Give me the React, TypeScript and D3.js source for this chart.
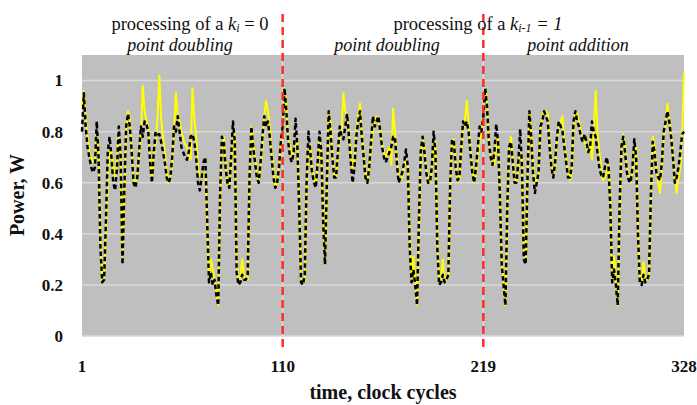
import React from "react";
import * as d3 from "d3";

// Power trace, segment 1 (cycles 1-111): processing of k_i = 0, point doubling
const yellowSeg1 = [
  0.90, 0.96, 0.85, 0.78, 0.72, 0.70, 0.68, 0.69, 0.80, 0.72,
  0.40, 0.22, 0.23, 0.40, 0.60, 0.73, 0.72, 0.66, 0.62, 0.70,
  0.78, 0.72, 0.31, 0.55, 0.80, 0.88, 0.85, 0.73, 0.62, 0.59,
  0.63, 0.70, 0.78, 0.98, 0.88, 0.84, 0.82, 0.70, 0.62, 0.70,
  0.76, 0.85, 1.02, 0.85, 0.78, 0.72, 0.64, 0.60, 0.63, 0.67,
  0.80, 0.95, 0.86, 0.84, 0.80, 0.77, 0.75, 0.74, 0.71, 0.69,
  0.97, 0.85, 0.78, 0.66, 0.63, 0.62, 0.63, 0.64, 0.45, 0.22,
  0.30, 0.26, 0.22, 0.18, 0.12, 0.50, 0.75, 0.78, 0.68, 0.62,
  0.58, 0.68, 0.76, 0.79, 0.30, 0.21, 0.22, 0.30, 0.24, 0.22,
  0.22, 0.60, 0.82, 0.76, 0.70, 0.64, 0.60, 0.66, 0.73, 0.86,
  0.92, 0.88, 0.82, 0.72, 0.65, 0.58, 0.60, 0.67, 0.74, 0.80,
  0.97,
];
// Segment 2 (cycles 112-220): processing of k_{i-1} = 1, point doubling
const yellowSeg2 = [
  0.90, 0.78, 0.74, 0.70, 0.72, 0.74, 0.77, 0.55, 0.22, 0.21,
  0.22, 0.56, 0.72, 0.75, 0.66, 0.62, 0.60, 0.66, 0.76, 0.70,
  0.50, 0.28, 0.55, 0.88, 0.84, 0.72, 0.63, 0.62, 0.70, 0.78,
  0.80, 0.95, 0.88, 0.86, 0.80, 0.72, 0.65, 0.70, 0.80, 0.86,
  0.91, 0.80, 0.72, 0.64, 0.60, 0.66, 0.73, 0.80, 0.84, 0.86,
  0.84, 0.80, 0.76, 0.72, 0.70, 0.72, 0.74, 0.67, 0.89, 0.80,
  0.70, 0.63, 0.61, 0.62, 0.66, 0.69, 0.67, 0.40, 0.22, 0.31,
  0.23, 0.12, 0.40, 0.70, 0.77, 0.74, 0.66, 0.62, 0.60, 0.64,
  0.74, 0.76, 0.40, 0.21, 0.22, 0.30, 0.23, 0.22, 0.23, 0.58,
  0.76, 0.77, 0.68, 0.62, 0.61, 0.72, 0.80, 0.84, 0.92, 0.83,
  0.74, 0.66, 0.60, 0.64, 0.70, 0.76, 0.80, 0.88, 0.97,
];
// Segment 3 (cycles 221-328): point addition
const yellowSeg3 = [
  0.92, 0.76, 0.70, 0.68, 0.67, 0.75, 0.78, 0.60, 0.30, 0.22,
  0.12, 0.45, 0.72, 0.78, 0.70, 0.62, 0.60, 0.66, 0.72, 0.70,
  0.35, 0.30, 0.60, 0.88, 0.80, 0.68, 0.60, 0.61, 0.63, 0.80,
  0.86, 0.88, 0.88, 0.87, 0.76, 0.68, 0.63, 0.66, 0.76, 0.82,
  0.84, 0.86, 0.76, 0.70, 0.64, 0.61, 0.64, 0.80, 0.88, 0.87,
  0.84, 0.80, 0.78, 0.76, 0.74, 0.72, 0.78, 0.69, 0.80, 0.96,
  0.80, 0.72, 0.66, 0.61, 0.62, 0.64, 0.67, 0.55, 0.22, 0.31,
  0.23, 0.12, 0.45, 0.72, 0.79, 0.74, 0.66, 0.62, 0.60, 0.64,
  0.72, 0.74, 0.45, 0.22, 0.21, 0.29, 0.22, 0.22, 0.23, 0.52,
  0.78, 0.74, 0.66, 0.60, 0.56, 0.66, 0.78, 0.82, 0.91, 0.85,
  0.80, 0.72, 0.62, 0.56, 0.62, 0.66, 0.78, 1.03,
];

const blackSeg1 = [
  0.80, 0.95, 0.82, 0.74, 0.70, 0.66, 0.64, 0.66, 0.84, 0.70,
  0.35, 0.21, 0.22, 0.45, 0.72, 0.78, 0.70, 0.60, 0.57, 0.66,
  0.82, 0.70, 0.28, 0.58, 0.82, 0.87, 0.82, 0.72, 0.60, 0.58,
  0.62, 0.72, 0.82, 0.78, 0.84, 0.83, 0.80, 0.68, 0.60, 0.72,
  0.80, 0.79, 0.79, 0.76, 0.72, 0.68, 0.62, 0.60, 0.62, 0.70,
  0.82, 0.80, 0.86, 0.80, 0.74, 0.72, 0.70, 0.69, 0.72, 0.78,
  0.79, 0.76, 0.70, 0.60, 0.57, 0.62, 0.68, 0.70, 0.45, 0.21,
  0.25, 0.20, 0.22, 0.16, 0.12, 0.55, 0.78, 0.76, 0.66, 0.60,
  0.58, 0.70, 0.84, 0.76, 0.25, 0.20, 0.21, 0.24, 0.22, 0.22,
  0.24, 0.62, 0.82, 0.74, 0.68, 0.62, 0.60, 0.68, 0.78, 0.86,
  0.82, 0.84, 0.78, 0.70, 0.62, 0.58, 0.60, 0.66, 0.76, 0.82,
  0.97,
];
const blackSeg2 = [
  0.88, 0.76, 0.70, 0.68, 0.72, 0.85, 0.74, 0.50, 0.21, 0.20,
  0.24, 0.60, 0.80, 0.72, 0.64, 0.60, 0.58, 0.68, 0.80, 0.72,
  0.45, 0.28, 0.60, 0.88, 0.80, 0.70, 0.62, 0.62, 0.72, 0.82,
  0.78, 0.77, 0.82, 0.87, 0.78, 0.68, 0.60, 0.66, 0.78, 0.84,
  0.88, 0.78, 0.70, 0.62, 0.60, 0.66, 0.76, 0.86, 0.82, 0.84,
  0.86, 0.80, 0.74, 0.70, 0.68, 0.70, 0.72, 0.74, 0.78, 0.78,
  0.68, 0.60, 0.62, 0.64, 0.68, 0.73, 0.66, 0.35, 0.21, 0.26,
  0.20, 0.12, 0.45, 0.72, 0.78, 0.72, 0.64, 0.60, 0.60, 0.66,
  0.80, 0.72, 0.35, 0.20, 0.21, 0.24, 0.21, 0.22, 0.24, 0.60,
  0.77, 0.76, 0.66, 0.61, 0.62, 0.74, 0.84, 0.82, 0.84, 0.80,
  0.72, 0.64, 0.60, 0.66, 0.74, 0.82, 0.80, 0.86, 0.97,
];
const blackSeg3 = [
  0.90, 0.76, 0.70, 0.67, 0.72, 0.83, 0.76, 0.55, 0.28, 0.20,
  0.12, 0.50, 0.74, 0.76, 0.68, 0.60, 0.60, 0.68, 0.81, 0.66,
  0.30, 0.28, 0.62, 0.88, 0.78, 0.64, 0.56, 0.60, 0.64, 0.82,
  0.84, 0.88, 0.86, 0.84, 0.74, 0.66, 0.62, 0.68, 0.78, 0.84,
  0.82, 0.80, 0.74, 0.68, 0.62, 0.62, 0.66, 0.84, 0.88, 0.84,
  0.82, 0.78, 0.76, 0.79, 0.76, 0.72, 0.74, 0.84, 0.80, 0.78,
  0.72, 0.66, 0.63, 0.62, 0.66, 0.70, 0.66, 0.50, 0.21, 0.26,
  0.20, 0.12, 0.50, 0.74, 0.78, 0.72, 0.64, 0.61, 0.60, 0.66,
  0.77, 0.70, 0.40, 0.21, 0.20, 0.24, 0.21, 0.22, 0.24, 0.55,
  0.76, 0.72, 0.64, 0.62, 0.61, 0.68, 0.80, 0.84, 0.88, 0.84,
  0.78, 0.70, 0.60, 0.62, 0.66, 0.72, 0.79, 0.80,
];

const xTicks = [1, 110, 219, 328];
const yTicks = [0, 0.2, 0.4, 0.6, 0.8, 1];
const boundaries = [110, 219];

const yellowPower = [...yellowSeg1, ...yellowSeg2, ...yellowSeg3];
const blackPower = [...blackSeg1, ...blackSeg2, ...blackSeg3];

const W = 697;
const H = 405;
const left = 82;
const right = 684;
const top = 55;
const bottom = 336;

const FONT = "'Liberation Serif', 'DejaVu Serif', serif";

export default function App() {
  const x = d3.scaleLinear().domain([1, 328]).range([left, right]);
  const y = d3.scaleLinear().domain([0, 1.1]).range([bottom, top]);

  const line = d3
    .line<number>()
    .x((_, i) => x(i + 1))
    .y((d) => y(d));

  return (
    <svg
      width={W}
      height={H}
      style={{ position: "absolute", left: 0, top: 0 }}
      fontFamily={FONT}
    >
      <rect x={0} y={0} width={W} height={H} fill="#ffffff" />
      <rect x={left} y={top} width={right - left} height={bottom - top} fill="#bfbfbf" />

      {yTicks.map((t) => (
        <line key={"g" + t} x1={left} x2={right} y1={y(t)} y2={y(t)} stroke="#d9d9d9" strokeWidth={1.5} />
      ))}
      {boundaries.map((b) => (
        <line key={"v" + b} x1={x(b)} x2={x(b)} y1={top} y2={bottom} stroke="#d9d9d9" strokeWidth={1.5} />
      ))}

      <path d={line(yellowPower) ?? ""} fill="none" stroke="#ffff00" strokeWidth={2} strokeLinejoin="round" />
      <path
        d={line(blackPower) ?? ""}
        fill="none"
        stroke="#000000"
        strokeWidth={2.5}
        strokeDasharray="4.5,3"
        strokeLinejoin="round"
      />

      {boundaries.map((b) => (
        <line
          key={"r" + b}
          x1={x(b)}
          x2={x(b)}
          y1={14}
          y2={352}
          stroke="#ff2a2a"
          strokeWidth={2.5}
          strokeDasharray="8,5"
        />
      ))}

      {yTicks.map((t) => (
        <text
          key={"yl" + t}
          x={63}
          y={y(t)}
          dy="0.35em"
          textAnchor="end"
          fontSize={17}
          fontWeight="bold"
          fill="#111"
        >
          {t === 0 ? "0" : t === 1 ? "1" : String(t)}
        </text>
      ))}
      {xTicks.map((t) => (
        <text key={"xl" + t} x={x(t)} y={372} textAnchor="middle" fontSize={17} fontWeight="bold" fill="#111">
          {t}
        </text>
      ))}

      <text
        transform={`translate(24,195) rotate(-90)`}
        textAnchor="middle"
        fontSize={20}
        fontWeight="bold"
        fill="#111"
      >
        Power, W
      </text>
      <text x={383} y={399} textAnchor="middle" fontSize={20} fontWeight="bold" fill="#111">
        time, clock cycles
      </text>

      <text x={190} y={30} textAnchor="middle" fontSize={18.5} fill="#111">
        processing of a <tspan fontStyle="italic">k</tspan>
        <tspan fontStyle="italic" fontSize={12} dy={2}>i</tspan>
        <tspan dy={-2}> = 0</tspan>
      </text>
      <text x={180} y={51} textAnchor="middle" fontSize={18} fontStyle="italic" fill="#111">
        point doubling
      </text>
      <text x={478} y={30} textAnchor="middle" fontSize={18.5} fill="#111">
        processing of a <tspan fontStyle="italic">k</tspan>
        <tspan fontStyle="italic" fontSize={12} dy={2}>i-1</tspan>
        <tspan dy={-2} fontStyle="italic"> = 1</tspan>
      </text>
      <text x={387} y={51} textAnchor="middle" fontSize={18} fontStyle="italic" fill="#111">
        point doubling
      </text>
      <text x={578} y={51} textAnchor="middle" fontSize={18} fontStyle="italic" fill="#111">
        point addition
      </text>
    </svg>
  );
}
